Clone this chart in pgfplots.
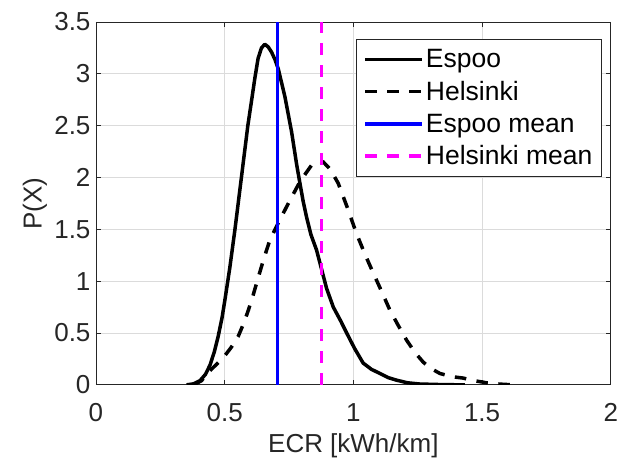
\documentclass[border=0pt]{standalone}
\usepackage{pgfplots}
\pgfplotsset{compat=1.18}
\usepackage{fontspec}
\setmainfont{Liberation Sans}
\usetikzlibrary{calc}
\definecolor{axgray}{gray}{0.15}
\definecolor{gridgray}{gray}{0.86}
\definecolor{mblue}{rgb}{0,0,1}
\definecolor{mmag}{rgb}{1,0,1}
\pgfplotstableread{
x y
0.352 0.0
0.38 0.01
0.404 0.04
0.425 0.10
0.443 0.19
0.46 0.32
0.475 0.47
0.49 0.65
0.501 0.82
0.52 1.13
0.54 1.50
0.559 1.88
0.575 2.2
0.59 2.5
0.605 2.75
0.618 2.97
0.63 3.15
0.643 3.25
0.656 3.285
0.669 3.26
0.682 3.21
0.695 3.14
0.708 3.05
0.734 2.78
0.76 2.44
0.78 2.12
0.792 1.95
0.805 1.77
0.818 1.62
0.835 1.45
0.857 1.30
0.877 1.11
0.896 0.93
0.922 0.75
0.95 0.62
0.974 0.50
1.005 0.35
1.038 0.21
1.07 0.15
1.103 0.11
1.135 0.07
1.168 0.045
1.21 0.02
1.258 0.008
1.35 0.002
1.433 0.0
}\espoo
\pgfplotstableread{
x y
0.38 0.0
0.41 0.04
0.436 0.12
0.465 0.19
0.494 0.26
0.525 0.36
0.553 0.47
0.575 0.6
0.592 0.72
0.61 0.86
0.624 0.98
0.65 1.2
0.676 1.40
0.706 1.55
0.741 1.72
0.786 1.93
0.815 2.04
0.838 2.12
0.864 2.16
0.883 2.15
0.91 2.08
0.941 1.945
0.975 1.72
1.012 1.46
1.045 1.26
1.077 1.08
1.11 0.9
1.142 0.72
1.175 0.57
1.207 0.43
1.24 0.31
1.271 0.22
1.30 0.16
1.336 0.11
1.38 0.08
1.427 0.065
1.47 0.04
1.517 0.02
1.57 0.007
1.62 0.0
}\helsinki
\begin{document}
\begin{tikzpicture}
\begin{axis}[
  scale only axis,
  width=515pt, height=363pt,
  xmin=0, xmax=2, ymin=0, ymax=3.5,
  xtick={0,0.5,1,1.5,2},
  xticklabels={0,0.5,1,1.5,2},
  ytick={0,0.5,1,1.5,2,2.5,3,3.5},
  yticklabels={0,0.5,1,1.5,2,2.5,3,3.5},
  tick label style={font=\fontsize{26}{30}\selectfont, text=axgray},
  xticklabel style={anchor=base, inner sep=0pt, yshift=-37pt},
  yticklabel style={xshift=-2pt},
  label style={font=\fontsize{26}{30}\selectfont, text=axgray},
  xlabel={ECR [kWh/km]},
  ylabel={P(X)},
  xlabel style={at={(axis description cs:0.5,0)}, anchor=base, inner sep=0pt, yshift=-68pt},
  ylabel style={at={(axis description cs:0,0.5)}, anchor=center, inner sep=0pt, yshift=61pt},
  grid=major,
  grid style={gridgray, line width=0.8pt},
  axis line style={axgray, line width=0.9pt},
  tick style={axgray, line width=0.9pt},
  major tick length=5pt,
  tick align=inside,
  legend cell align=left,
  legend image code/.code={\draw[#1] (0pt,0pt) -- (57pt,0pt);},
  legend style={
    at={(rel axis cs:0.9825,0.953)}, anchor=north east,
    draw=axgray, line width=0.9pt, fill=white,
    font=\fontsize{26.5}{30}\selectfont,
    inner xsep=7pt, inner ysep=8pt,
    row sep=8pt,
    nodes={text=black},
  },
]
\addplot[black, line width=3.5pt, line join=round] table {\espoo};
\addlegendentry{Espoo}
\addplot[black, line width=3.5pt, dash pattern=on 11.5pt off 10.5pt] table {\helsinki};
\addlegendentry{Helsinki}
\addplot[mblue, line width=3.5pt] coordinates {(0.706,0) (0.706,3.5)};
\addlegendentry{Espoo mean}
\addplot[mmag, line width=3.5pt, dash pattern=on 11.5pt off 10.5pt] coordinates {(0.877,0) (0.877,3.5)};
\addlegendentry{Helsinki mean}
\end{axis}
\path ($(current axis.south west)+(-96pt,-74pt)$) rectangle ($(current axis.north east)+(7pt,22pt)$);
\end{tikzpicture}
\end{document}
